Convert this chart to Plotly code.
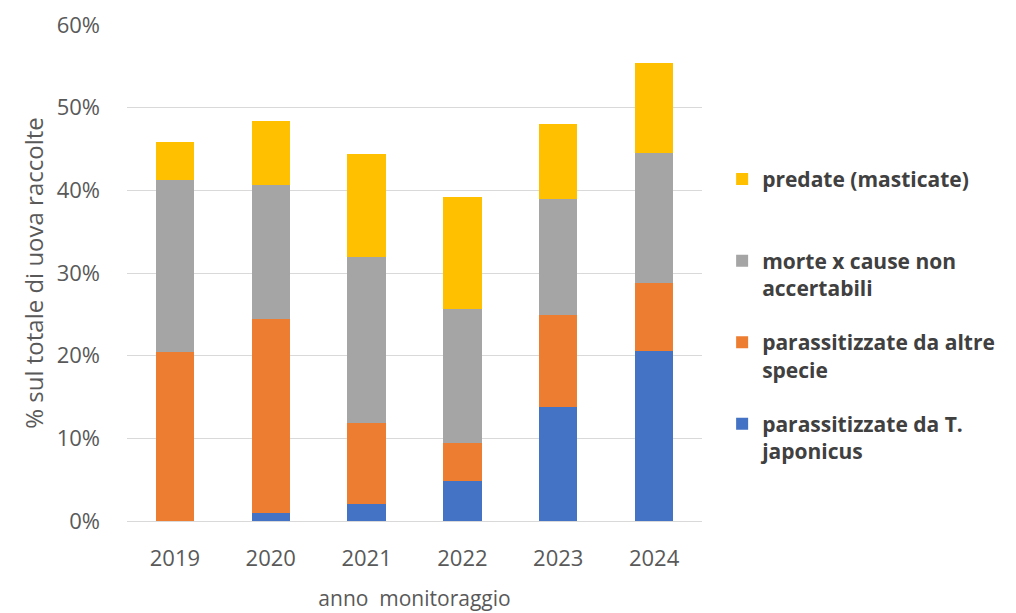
import plotly.graph_objects as go

years = ["2019", "2020", "2021", "2022", "2023", "2024"]
japonicus = [0.0, 1.0, 2.1, 4.8, 13.8, 20.6]
altre_specie = [20.4, 23.4, 9.7, 4.6, 11.1, 8.2]
non_accertabili = [20.9, 16.3, 20.1, 16.2, 14.0, 15.7]
predate = [4.5, 7.7, 12.5, 13.6, 9.1, 10.9]

series = [
    ("parassitizzate da T.<br>japonicus", japonicus, "#4472C4"),
    ("parassitizzate da altre<br>specie", altre_specie, "#ED7D31"),
    ("morte x cause non<br>accertabili", non_accertabili, "#A5A5A5"),
    ("predate (masticate)<br> ", predate, "#FFC000"),
]

fig = go.Figure()
n = len(series)
for i, (name, vals, col) in enumerate(series):
    fig.add_trace(go.Bar(
        x=years, y=[v / 100 for v in vals], name=name,
        marker=dict(color=col, line=dict(width=0)),
        legendgroup=f"g{i}",
        legendrank=(n - i) * 100,
    ))

fig.update_layout(
    barmode="stack",
    bargap=0.6,
    width=1016, height=613,
    margin=dict(l=127, r=314, t=25, b=92),
    plot_bgcolor="white", paper_bgcolor="white",
    font=dict(family="Open Sans", color="#595959"),
    xaxis=dict(
        title=dict(text="anno  monitoraggio", font=dict(size=21, color="#595959"), standoff=20),
        tickfont=dict(size=22, color="#595959"),
        showline=False, ticks="", showgrid=False,
        ticklabelstandoff=22,
        automargin=False,
    ),
    yaxis=dict(
        range=[0, 0.6], dtick=0.1, tickformat=".0%",
        tickfont=dict(size=22, color="#595959"),
        gridcolor="#D9D9D9", gridwidth=1,
        zeroline=True, zerolinecolor="#D9D9D9", zerolinewidth=1,
        title=dict(text="% sul totale di uova raccolte", font=dict(size=24, color="#595959"), standoff=6),
        ticks="", ticklabelstandoff=26,
        automargin=False,
    ),
    legend=dict(
        traceorder="grouped",
        x=1.035, xanchor="left", y=0.73, yanchor="top",
        valign="top",
        font=dict(size=21, color="#404040", family="Open Sans", weight="bold"),
        tracegroupgap=24,
        itemwidth=30,
        bgcolor="rgba(0,0,0,0)",
    ),
)

fig.write_html("out.html")
